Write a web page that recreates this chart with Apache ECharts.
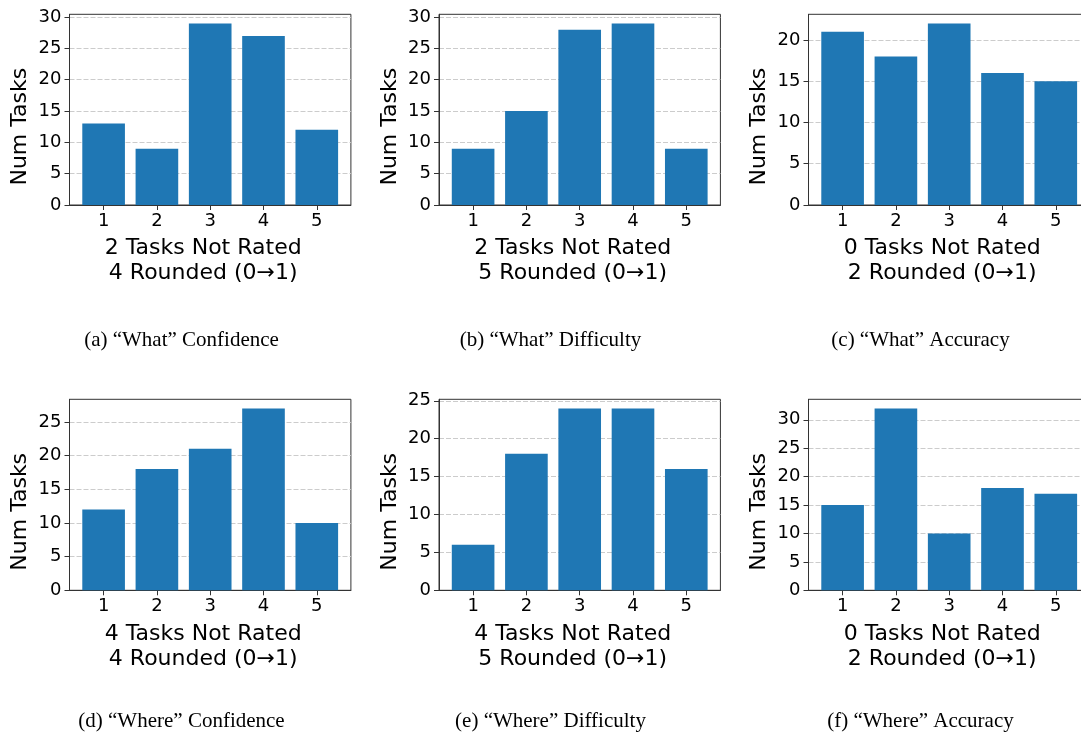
<!DOCTYPE html>
<html>
<head>
<meta charset="utf-8">
<script src="https://cdn.jsdelivr.net/npm/echarts@6/dist/echarts.min.js"></script>
<style>
html,body{margin:0;padding:0;background:#fff;}
#chart{width:1081px;height:735px;}
</style>
</head>
<body>
<div id="chart"></div>
<script>
// ---- data ----
const ratings = [1, 2, 3, 4, 5];
const whatConfidence  = [13, 9, 29, 27, 12];
const whatDifficulty  = [9, 15, 28, 29, 9];
const whatAccuracy    = [21, 18, 22, 16, 15];
const whereConfidence = [12, 18, 21, 27, 10];
const whereDifficulty = [6, 18, 24, 24, 16];
const whereAccuracy   = [15, 32, 10, 18, 17];
const notRated = [2, 2, 0, 4, 4, 0];
const roundedCounts = [4, 5, 2, 4, 5, 2];
const captions = [
  '(a) \u201cWhat\u201d Confidence',
  '(b) \u201cWhat\u201d Difficulty',
  '(c) \u201cWhat\u201d Accuracy',
  '(d) \u201cWhere\u201d Confidence',
  '(e) \u201cWhere\u201d Difficulty',
  '(f) \u201cWhere\u201d Accuracy'
];
const yTicksA = [0, 5, 10, 15, 20, 25, 30];
const yTicksB = [0, 5, 10, 15, 20, 25, 30];
const yTicksC = [0, 5, 10, 15, 20];
const yTicksD = [0, 5, 10, 15, 20, 25];
const yTicksE = [0, 5, 10, 15, 20, 25];
const yTicksF = [0, 5, 10, 15, 20, 25, 30];
const yLabel = 'Num Tasks';

// ---- layout ----
const seriesData = [whatConfidence, whatDifficulty, whatAccuracy, whereConfidence, whereDifficulty, whereAccuracy];
const yTicks = [yTicksA, yTicksB, yTicksC, yTicksD, yTicksE, yTicksF];
const lefts = [69.5, 439, 808.5];
const tops = [14.3, 399.3];
const heights = [190.7, 191];
const plotW = 281.4;
const capX = [181.5, 550.5, 920.5];
const capY = [340, 721.5];

const AX = '#333';
const grids = [], xAxes = [], yAxes = [], series = [], graphics = [];
for (let i = 0; i < 6; i++) {
  const r = Math.floor(i / 3), c = i % 3;
  const vals = seriesData[i];
  const ymax = Math.max(...vals) * 1.05;
  grids.push({
    left: lefts[c], top: tops[r], width: plotW, height: heights[r],
    show: true, borderColor: AX, borderWidth: 1, backgroundColor: 'transparent',
    containLabel: false, outerBoundsMode: 'none'
  });
  xAxes.push({
    gridIndex: i, type: 'value', min: 0.36, max: 5.64,
    axisLine: { show: true, lineStyle: { color: AX, width: 1 } },
    axisTick: { show: true, length: 5, lineStyle: { color: AX, width: 1 }, customValues: ratings },
    axisLabel: { show: true, customValues: ratings, color: '#000', fontSize: 18, margin: 7,
                 fontFamily: 'DejaVu Sans', formatter: v => String(v) },
    splitLine: { show: false },
    name: notRated[i] + ' Tasks Not Rated\n' + roundedCounts[i] + ' Rounded (0\u21921)',
    nameLocation: 'middle', nameGap: 31,
    nameTextStyle: { fontSize: 22, lineHeight: 25, color: '#000', fontFamily: 'DejaVu Sans',
                     padding: [0, 14, 0, 0] }
  });
  yAxes.push({
    gridIndex: i, type: 'value', min: 0, max: ymax, interval: 5,
    axisLine: { show: true, lineStyle: { color: AX, width: 1 } },
    axisTick: { show: true, length: 5, lineStyle: { color: AX, width: 1 }, customValues: yTicks[i] },
    axisLabel: { show: true, customValues: yTicks[i], color: '#000', fontSize: 18, margin: 8,
                 fontFamily: 'DejaVu Sans' },
    splitLine: { show: true, lineStyle: { color: '#cccccc', width: 1, type: [5, 2] } },
    name: yLabel, nameLocation: 'middle', nameGap: 38,
    nameTextStyle: { fontSize: 22, color: '#000', fontFamily: 'DejaVu Sans', padding: [0, 34, 0, 0] }
  });
  series.push({
    type: 'bar', xAxisIndex: i, yAxisIndex: i,
    data: ratings.map((x, k) => [x, vals[k]]),
    barWidth: '80%',
    itemStyle: { color: '#1f77b4' },
    silent: true, animation: false
  });
  graphics.push({
    type: 'text', x: capX[c], y: capY[r],
    style: { text: captions[i], align: 'center', verticalAlign: 'middle',
             font: '21px "Liberation Serif"', fill: '#000' }
  });
}

const chart = echarts.init(document.getElementById('chart'), null, { renderer: 'canvas' });
chart.setOption({
  animation: false,
  backgroundColor: '#fff',
  textStyle: { fontFamily: 'DejaVu Sans' },
  grid: grids, xAxis: xAxes, yAxis: yAxes, series: series,
  graphic: graphics
});
</script>
</body>
</html>
